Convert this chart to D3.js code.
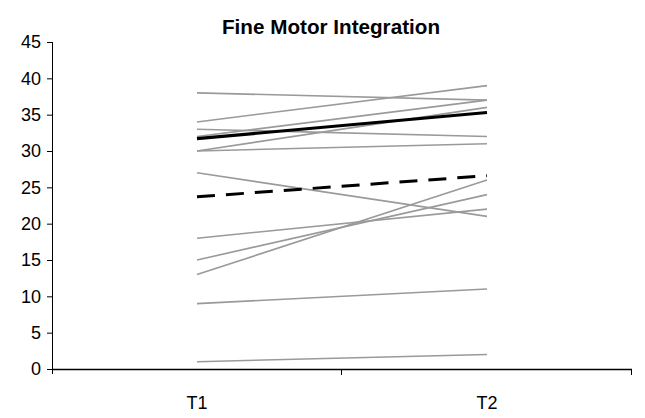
<!DOCTYPE html>
<html>
<head>
<meta charset="utf-8">
<script src="https://cdn.jsdelivr.net/npm/d3@7"></script>
<style>
  html, body { margin: 0; padding: 0; background: #fff; }
  svg text { font-family: "Liberation Sans Narrow", "Arial Narrow", "Liberation Sans", Arial, sans-serif; }
</style>
</head>
<body>
<svg id="chart" width="645" height="418"></svg>
<script>
// Time points
const timepoints = ["T1", "T2"];
// Individual scores at T1 and T2
const t1Scores = [38, 34, 33, 32, 30, 30, 27, 18, 15, 13, 9, 1];
const t2Scores = [37, 39, 32, 37, 36, 31, 21, 22, 24, 26, 11, 2];
// Group mean lines
const meanSolid = [31.7, 35.3];
const meanDashed = [23.7, 26.6];
// Y axis ticks
const yTicks = [0, 5, 10, 15, 20, 25, 30, 35, 40, 45];

const svg = d3.select("#chart");
const plotLeft = 52, plotRight = 632, plotTop = 42, plotBottom = 369;

const x = d3.scaleBand().domain(timepoints).range([plotLeft, plotRight]).padding(0);
const y = d3.scaleLinear().domain([0, 45]).range([plotBottom, plotTop]);
const cx = t => x(t) + x.bandwidth() / 2;

const line = d3.line()
  .x(d => cx(d.t))
  .y(d => y(d.v));

const toPts = vals => vals.map((v, i) => ({ t: timepoints[i], v }));

// Individual trajectories
const individuals = t1Scores.map((v, i) => [v, t2Scores[i]]);
svg.append("g")
  .selectAll("path")
  .data(individuals)
  .join("path")
  .attr("d", d => line(toPts(d)))
  .attr("fill", "none")
  .attr("stroke", "#9a9a9a")
  .attr("stroke-width", 1.6);

// Mean lines
svg.append("path")
  .attr("d", line(toPts(meanDashed)))
  .attr("fill", "none")
  .attr("stroke", "#000")
  .attr("stroke-width", 3)
  .attr("stroke-dasharray", "18,11");

svg.append("path")
  .attr("d", line(toPts(meanSolid)))
  .attr("fill", "none")
  .attr("stroke", "#000")
  .attr("stroke-width", 3.2);

// Y axis
const yAxis = d3.axisLeft(y).tickValues(yTicks).tickSize(5).tickSizeOuter(0).tickPadding(6);
const gy = svg.append("g").attr("transform", `translate(${plotLeft},0)`).call(yAxis);
gy.select(".domain").attr("stroke", "#000").attr("stroke-width", 1).attr("d", `M0.5,${plotTop}V${plotBottom + 5}`);
gy.selectAll(".tick line").attr("stroke", "#000");
gy.selectAll(".tick text").attr("font-size", 18).attr("fill", "#000");

// X axis with tick marks on category boundaries
const gx = svg.append("g").attr("transform", `translate(0,${plotBottom})`);
gx.append("line")
  .attr("x1", plotLeft).attr("x2", plotRight)
  .attr("y1", 0.5).attr("y2", 0.5)
  .attr("stroke", "#000").attr("stroke-width", 1.5);
const boundaries = timepoints.map(t => x(t)).concat([x(timepoints[timepoints.length - 1]) + x.bandwidth()]);
gx.selectAll("line.tk")
  .data(boundaries.slice(1))
  .join("line")
  .attr("class", "tk")
  .attr("x1", d => d - 0.5).attr("x2", d => d - 0.5)
  .attr("y1", 0).attr("y2", 6)
  .attr("stroke", "#000");
gx.selectAll("text")
  .data(timepoints)
  .join("text")
  .attr("x", d => cx(d))
  .attr("y", 40)
  .attr("text-anchor", "middle")
  .attr("font-size", 18)
  .attr("fill", "#000")
  .text(d => d);

// Title
svg.append("text")
  .attr("x", 331)
  .attr("y", 34)
  .attr("text-anchor", "middle")
  .attr("font-size", 21)
  .attr("font-weight", "bold")
  .attr("fill", "#000")
  .attr("textLength", 218)
  .attr("lengthAdjust", "spacingAndGlyphs")
  .text("Fine Motor Integration");
</script>
</body>
</html>
